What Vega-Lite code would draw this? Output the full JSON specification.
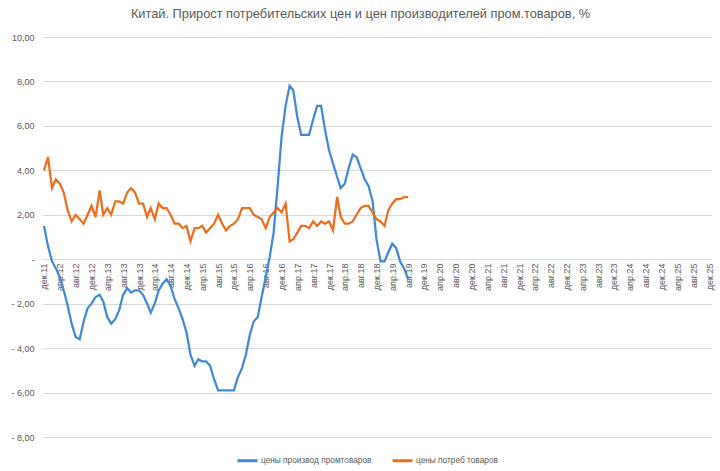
{
  "$schema": "https://vega.github.io/schema/vega-lite/v6.json",
  "width": 669,
  "height": 400,
  "autosize": {"type": "none"},
  "padding": {"left": 42, "top": 37, "right": 9, "bottom": 34},
  "background": "white",
  "title": {
    "text": "Китай. Прирост потребительских цен и цен производителей пром.товаров, %",
    "fontSize": 12.8,
    "font": "'Liberation Sans', sans-serif",
    "fontWeight": "normal",
    "color": "#595959",
    "anchor": "middle",
    "frame": "group",
    "offset": 12,
    "dx": -16
  },
  "data": {
    "values": [
      {"date": "2011-12-01", "ppi": 1.5, "cpi": 4.0},
      {"date": "2012-01-01", "ppi": 0.6, "cpi": 4.6},
      {"date": "2012-02-01", "ppi": -0.1, "cpi": 3.2},
      {"date": "2012-03-01", "ppi": -0.4, "cpi": 3.6},
      {"date": "2012-04-01", "ppi": -0.8, "cpi": 3.4},
      {"date": "2012-05-01", "ppi": -1.4, "cpi": 3.0},
      {"date": "2012-06-01", "ppi": -2.1, "cpi": 2.2},
      {"date": "2012-07-01", "ppi": -2.9, "cpi": 1.7},
      {"date": "2012-08-01", "ppi": -3.5, "cpi": 2.0},
      {"date": "2012-09-01", "ppi": -3.6, "cpi": 1.8},
      {"date": "2012-10-01", "ppi": -2.8, "cpi": 1.6},
      {"date": "2012-11-01", "ppi": -2.2, "cpi": 2.0},
      {"date": "2012-12-01", "ppi": -2.0, "cpi": 2.4},
      {"date": "2013-01-01", "ppi": -1.7, "cpi": 1.9},
      {"date": "2013-02-01", "ppi": -1.6, "cpi": 3.1},
      {"date": "2013-03-01", "ppi": -1.9, "cpi": 2.0},
      {"date": "2013-04-01", "ppi": -2.6, "cpi": 2.3},
      {"date": "2013-05-01", "ppi": -2.9, "cpi": 2.0},
      {"date": "2013-06-01", "ppi": -2.7, "cpi": 2.6},
      {"date": "2013-07-01", "ppi": -2.3, "cpi": 2.6},
      {"date": "2013-08-01", "ppi": -1.6, "cpi": 2.5},
      {"date": "2013-09-01", "ppi": -1.3, "cpi": 3.0},
      {"date": "2013-10-01", "ppi": -1.5, "cpi": 3.2},
      {"date": "2013-11-01", "ppi": -1.4, "cpi": 3.0},
      {"date": "2013-12-01", "ppi": -1.4, "cpi": 2.5},
      {"date": "2014-01-01", "ppi": -1.6, "cpi": 2.5},
      {"date": "2014-02-01", "ppi": -2.0, "cpi": 1.9},
      {"date": "2014-03-01", "ppi": -2.4, "cpi": 2.3},
      {"date": "2014-04-01", "ppi": -2.0, "cpi": 1.8},
      {"date": "2014-05-01", "ppi": -1.4, "cpi": 2.5},
      {"date": "2014-06-01", "ppi": -1.1, "cpi": 2.3},
      {"date": "2014-07-01", "ppi": -0.9, "cpi": 2.3},
      {"date": "2014-08-01", "ppi": -1.2, "cpi": 2.0},
      {"date": "2014-09-01", "ppi": -1.8, "cpi": 1.6},
      {"date": "2014-10-01", "ppi": -2.2, "cpi": 1.6},
      {"date": "2014-11-01", "ppi": -2.7, "cpi": 1.4},
      {"date": "2014-12-01", "ppi": -3.3, "cpi": 1.5},
      {"date": "2015-01-01", "ppi": -4.3, "cpi": 0.8},
      {"date": "2015-02-01", "ppi": -4.8, "cpi": 1.4},
      {"date": "2015-03-01", "ppi": -4.5, "cpi": 1.4},
      {"date": "2015-04-01", "ppi": -4.6, "cpi": 1.5},
      {"date": "2015-05-01", "ppi": -4.6, "cpi": 1.2},
      {"date": "2015-06-01", "ppi": -4.8, "cpi": 1.4},
      {"date": "2015-07-01", "ppi": -5.4, "cpi": 1.6},
      {"date": "2015-08-01", "ppi": -5.9, "cpi": 2.0},
      {"date": "2015-09-01", "ppi": -5.9, "cpi": 1.6},
      {"date": "2015-10-01", "ppi": -5.9, "cpi": 1.3},
      {"date": "2015-11-01", "ppi": -5.9, "cpi": 1.5},
      {"date": "2015-12-01", "ppi": -5.9, "cpi": 1.6},
      {"date": "2016-01-01", "ppi": -5.3, "cpi": 1.8},
      {"date": "2016-02-01", "ppi": -4.9, "cpi": 2.3},
      {"date": "2016-03-01", "ppi": -4.3, "cpi": 2.3},
      {"date": "2016-04-01", "ppi": -3.4, "cpi": 2.3},
      {"date": "2016-05-01", "ppi": -2.8, "cpi": 2.0},
      {"date": "2016-06-01", "ppi": -2.6, "cpi": 1.9},
      {"date": "2016-07-01", "ppi": -1.7, "cpi": 1.8},
      {"date": "2016-08-01", "ppi": -0.8, "cpi": 1.4},
      {"date": "2016-09-01", "ppi": 0.1, "cpi": 1.9},
      {"date": "2016-10-01", "ppi": 1.2, "cpi": 2.1},
      {"date": "2016-11-01", "ppi": 3.3, "cpi": 2.3},
      {"date": "2016-12-01", "ppi": 5.5, "cpi": 2.1},
      {"date": "2017-01-01", "ppi": 6.9, "cpi": 2.5},
      {"date": "2017-02-01", "ppi": 7.8, "cpi": 0.8},
      {"date": "2017-03-01", "ppi": 7.6, "cpi": 0.9},
      {"date": "2017-04-01", "ppi": 6.4, "cpi": 1.2},
      {"date": "2017-05-01", "ppi": 5.6, "cpi": 1.5},
      {"date": "2017-06-01", "ppi": 5.6, "cpi": 1.5},
      {"date": "2017-07-01", "ppi": 5.6, "cpi": 1.4},
      {"date": "2017-08-01", "ppi": 6.3, "cpi": 1.7},
      {"date": "2017-09-01", "ppi": 6.9, "cpi": 1.5},
      {"date": "2017-10-01", "ppi": 6.9, "cpi": 1.7},
      {"date": "2017-11-01", "ppi": 5.8, "cpi": 1.6},
      {"date": "2017-12-01", "ppi": 4.9, "cpi": 1.7},
      {"date": "2018-01-01", "ppi": 4.3, "cpi": 1.3},
      {"date": "2018-02-01", "ppi": 3.7, "cpi": 2.8},
      {"date": "2018-03-01", "ppi": 3.2, "cpi": 1.9},
      {"date": "2018-04-01", "ppi": 3.4, "cpi": 1.6},
      {"date": "2018-05-01", "ppi": 4.1, "cpi": 1.6},
      {"date": "2018-06-01", "ppi": 4.7, "cpi": 1.7},
      {"date": "2018-07-01", "ppi": 4.6, "cpi": 2.0},
      {"date": "2018-08-01", "ppi": 4.1, "cpi": 2.3},
      {"date": "2018-09-01", "ppi": 3.6, "cpi": 2.4},
      {"date": "2018-10-01", "ppi": 3.3, "cpi": 2.4},
      {"date": "2018-11-01", "ppi": 2.6, "cpi": 2.1},
      {"date": "2018-12-01", "ppi": 0.9, "cpi": 1.8},
      {"date": "2019-01-01", "ppi": -0.1, "cpi": 1.7},
      {"date": "2019-02-01", "ppi": -0.1, "cpi": 1.5},
      {"date": "2019-03-01", "ppi": 0.3, "cpi": 2.2},
      {"date": "2019-04-01", "ppi": 0.7, "cpi": 2.5},
      {"date": "2019-05-01", "ppi": 0.5, "cpi": 2.7},
      {"date": "2019-06-01", "ppi": -0.1, "cpi": 2.7},
      {"date": "2019-07-01", "ppi": -0.4, "cpi": 2.8},
      {"date": "2019-08-01", "ppi": -0.9, "cpi": 2.8}
    ]
  },
  "transform": [{"fold": ["ppi", "cpi"], "as": ["series", "value"]}],
  "mark": {"type": "line", "strokeWidth": 2.25},
  "encoding": {
    "x": {
      "field": "date",
      "type": "temporal",
      "scale": {
        "type": "utc",
        "domain": [
          {"year": 2011, "month": 11, "date": 16, "utc": true},
          {"year": 2025, "month": 12, "date": 16, "utc": true}
        ]
      },
      "axis": {
        "title": null,
        "grid": false,
        "ticks": false,
        "domain": true,
        "domainColor": "#d9d9d9",
        "labelAngle": -90,
        "labelFontSize": 9,
        "labelFont": "'Liberation Sans', sans-serif",
        "labelColor": "#595959",
        "labelPadding": 4,
        "labelOverlap": false,
        "offset": -178,
        "labelExpr": "['янв','фев','мар','апр','май','июн','июл','авг','сен','окт','ноя','дек'][utcmonth(datum.value)] + '.' + utcFormat(datum.value, '%y')",
        "values": [
          {"year": 2011, "month": 12, "date": 1, "utc": true},
          {"year": 2012, "month": 4, "date": 1, "utc": true},
          {"year": 2012, "month": 8, "date": 1, "utc": true},
          {"year": 2012, "month": 12, "date": 1, "utc": true},
          {"year": 2013, "month": 4, "date": 1, "utc": true},
          {"year": 2013, "month": 8, "date": 1, "utc": true},
          {"year": 2013, "month": 12, "date": 1, "utc": true},
          {"year": 2014, "month": 4, "date": 1, "utc": true},
          {"year": 2014, "month": 8, "date": 1, "utc": true},
          {"year": 2014, "month": 12, "date": 1, "utc": true},
          {"year": 2015, "month": 4, "date": 1, "utc": true},
          {"year": 2015, "month": 8, "date": 1, "utc": true},
          {"year": 2015, "month": 12, "date": 1, "utc": true},
          {"year": 2016, "month": 4, "date": 1, "utc": true},
          {"year": 2016, "month": 8, "date": 1, "utc": true},
          {"year": 2016, "month": 12, "date": 1, "utc": true},
          {"year": 2017, "month": 4, "date": 1, "utc": true},
          {"year": 2017, "month": 8, "date": 1, "utc": true},
          {"year": 2017, "month": 12, "date": 1, "utc": true},
          {"year": 2018, "month": 4, "date": 1, "utc": true},
          {"year": 2018, "month": 8, "date": 1, "utc": true},
          {"year": 2018, "month": 12, "date": 1, "utc": true},
          {"year": 2019, "month": 4, "date": 1, "utc": true},
          {"year": 2019, "month": 8, "date": 1, "utc": true},
          {"year": 2019, "month": 12, "date": 1, "utc": true},
          {"year": 2020, "month": 4, "date": 1, "utc": true},
          {"year": 2020, "month": 8, "date": 1, "utc": true},
          {"year": 2020, "month": 12, "date": 1, "utc": true},
          {"year": 2021, "month": 4, "date": 1, "utc": true},
          {"year": 2021, "month": 8, "date": 1, "utc": true},
          {"year": 2021, "month": 12, "date": 1, "utc": true},
          {"year": 2022, "month": 4, "date": 1, "utc": true},
          {"year": 2022, "month": 8, "date": 1, "utc": true},
          {"year": 2022, "month": 12, "date": 1, "utc": true},
          {"year": 2023, "month": 4, "date": 1, "utc": true},
          {"year": 2023, "month": 8, "date": 1, "utc": true},
          {"year": 2023, "month": 12, "date": 1, "utc": true},
          {"year": 2024, "month": 4, "date": 1, "utc": true},
          {"year": 2024, "month": 8, "date": 1, "utc": true},
          {"year": 2024, "month": 12, "date": 1, "utc": true},
          {"year": 2025, "month": 4, "date": 1, "utc": true},
          {"year": 2025, "month": 8, "date": 1, "utc": true},
          {"year": 2025, "month": 12, "date": 1, "utc": true}
        ]
      }
    },
    "y": {
      "field": "value",
      "type": "quantitative",
      "scale": {"domain": [-8, 10], "nice": false, "zero": false},
      "axis": {
        "title": null,
        "values": [-8, -6, -4, -2, 0, 2, 4, 6, 8, 10],
        "grid": true,
        "gridColor": "#d9d9d9",
        "gridWidth": 1,
        "ticks": false,
        "domain": false,
        "labelFontSize": 9,
        "labelFont": "'Liberation Sans', sans-serif",
        "labelColor": "#595959",
        "labelPadding": 8,
        "labelExpr": "datum.value == 0 ? '-\u00a0\u00a0\u00a0\u00a0' : (datum.value < 0 ? '- ' : '') + replace(format(abs(datum.value), '.2f'), '.', ',')"
      }
    },
    "color": {
      "field": "series",
      "type": "nominal",
      "scale": {"domain": ["ppi", "cpi"], "range": ["#4189d7", "#ee6e1f"]},
      "legend": {
        "title": null,
        "orient": "none",
        "legendX": 194,
        "legendY": 412,
        "direction": "horizontal",
        "symbolType": "stroke",
        "symbolSize": 400,
        "symbolStrokeWidth": 3,
        "labelFontSize": 8.3,
        "labelFont": "'Liberation Sans', sans-serif",
        "labelColor": "#595959",
        "labelOffset": 2,
        "columnPadding": 14,
        "labelExpr": "datum.label == 'ppi' ? 'цены производ промтоваров' : 'цены потреб товаров'"
      }
    }
  },
  "config": {"view": {"stroke": null}}
}
